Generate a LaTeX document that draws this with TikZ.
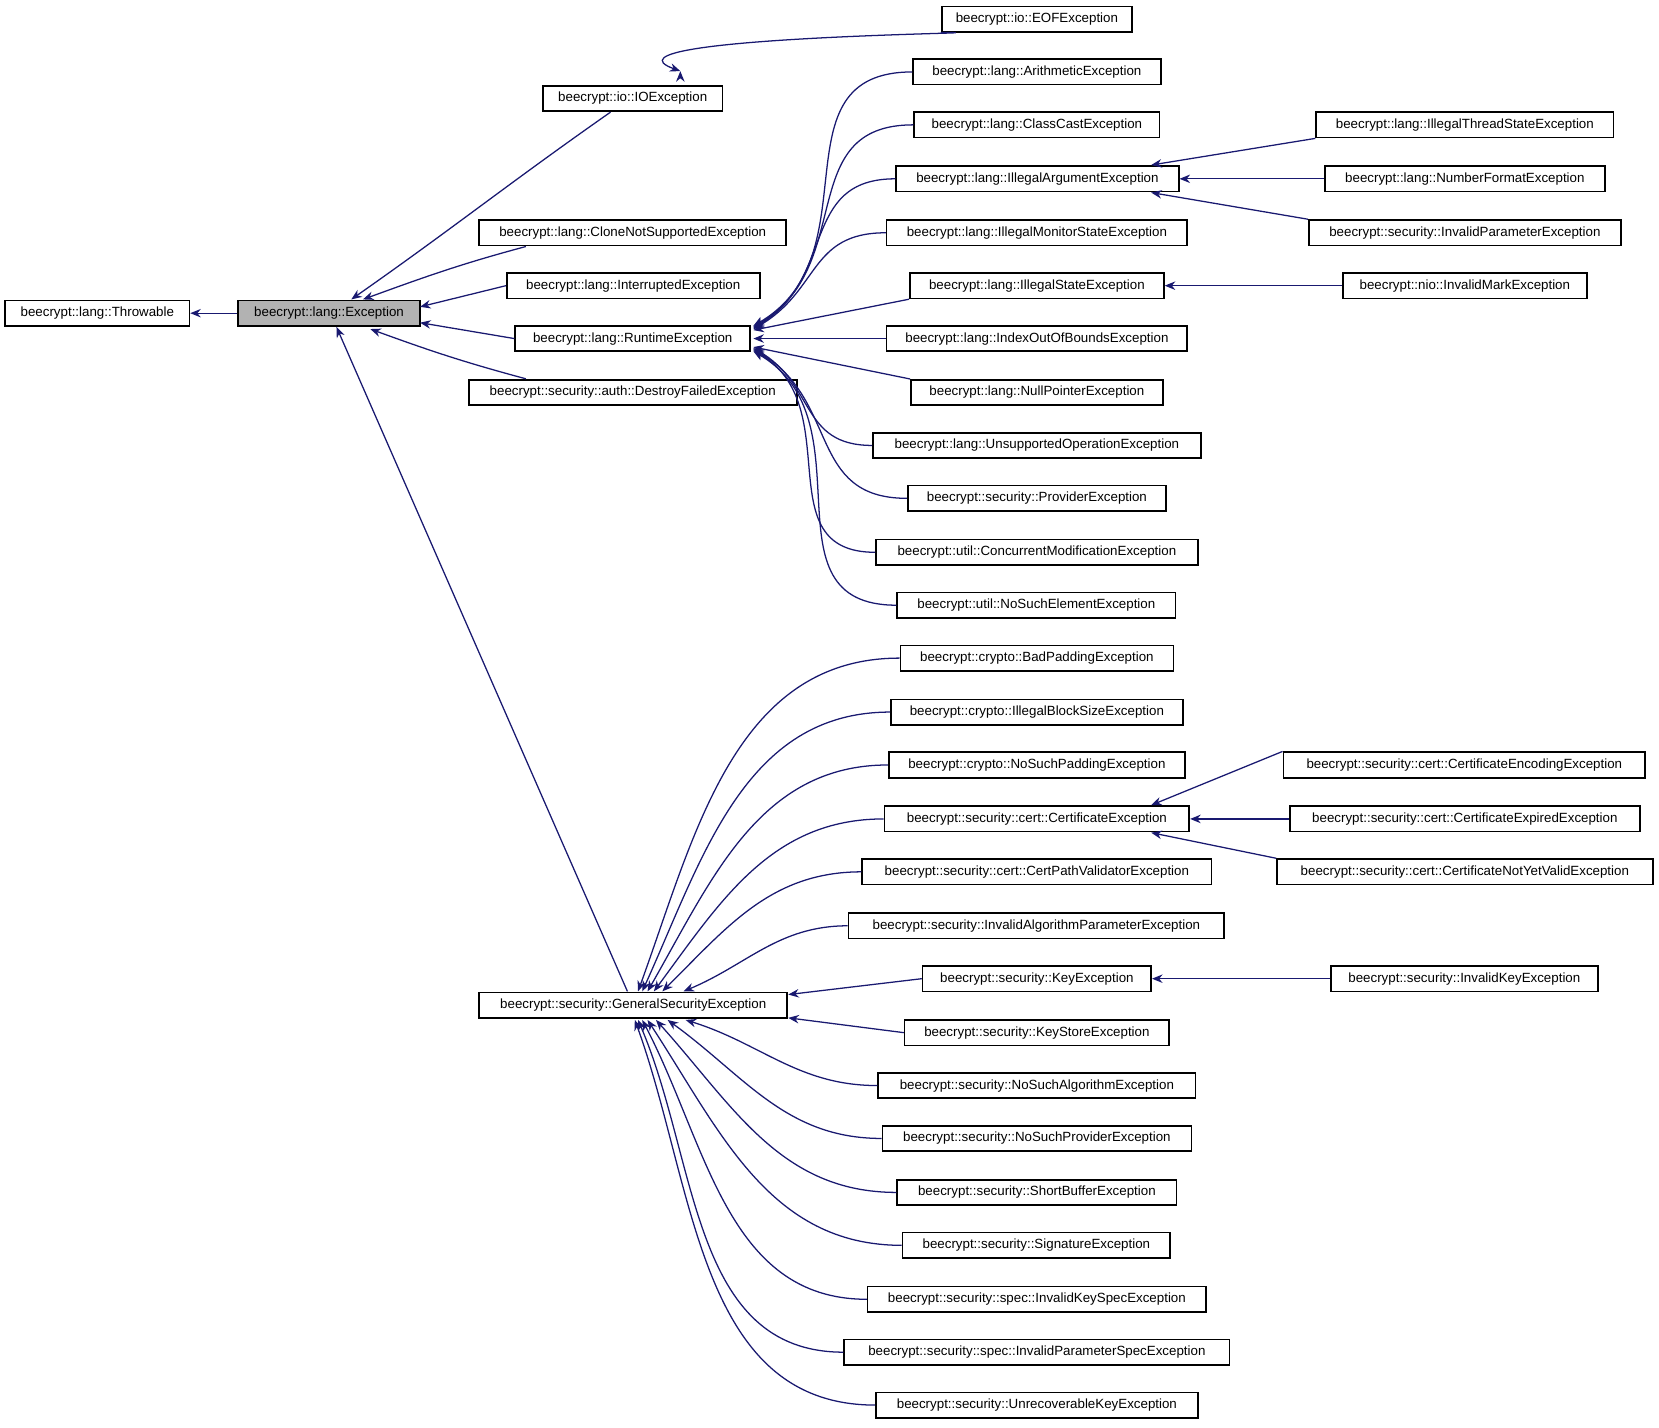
\documentclass[tikz,border=0pt]{standalone}
\usepackage{fontspec}
\setmainfont{Liberation Sans}
\usetikzlibrary{arrows.meta}
\definecolor{navy}{HTML}{191970}
\tikzset{
  cls/.style={draw, thick, inner sep=0pt, minimum height=12pt,
    font=\fontsize{6.3}{7}\selectfont},
  edge/.style={{Stealth[length=5pt,width=4pt]}-, draw=navy, semithick}
}
% class box: name, left, right, y, text
\newcommand\cls[5]{\node[cls, minimum width={(#3-#2)*0.5pt}] (#1) at ({(#2+#3)/2},#4) {#5};}
\begin{document}
\begin{tikzpicture}[x=0.5pt,y=-0.5pt]
  \useasboundingbox (0,0) rectangle (1568,1349);
  % root
  \cls{thr}{5}{179}{296}{beecrypt::lang::Throwable}
  \node[cls, fill=black!30, minimum width=86pt] (exc) at (311,296) {beecrypt::lang::Exception};
  \cls{io}{513}{683}{93}{beecrypt::io::IOException}
  \cls{eof}{890}{1070}{18}{beecrypt::io::EOFException}
  \cls{clone}{453}{743}{220}{beecrypt::lang::CloneNotSupportedException}
  \cls{intr}{479}{718}{270}{beecrypt::lang::InterruptedException}
  \cls{rt}{487}{709}{320}{beecrypt::lang::RuntimeException}
  \cls{dfe}{443}{753}{371}{beecrypt::security::auth::DestroyFailedException}
  \cls{gs}{453}{744}{950}{beecrypt::security::GeneralSecurityException}
  % runtime children
  \cls{arith}{863}{1097}{68}{beecrypt::lang::ArithmeticException}
  \cls{ccast}{864}{1096}{118}{beecrypt::lang::ClassCastException}
  \cls{iarg}{847}{1114}{169}{beecrypt::lang::IllegalArgumentException}
  \cls{imon}{838}{1122}{220}{beecrypt::lang::IllegalMonitorStateException}
  \cls{ist}{860}{1100}{270}{beecrypt::lang::IllegalStateException}
  \cls{ioob}{838}{1122}{320}{beecrypt::lang::IndexOutOfBoundsException}
  \cls{npe}{861}{1099}{371}{beecrypt::lang::NullPointerException}
  \cls{uoe}{825}{1135}{421}{beecrypt::lang::UnsupportedOperationException}
  \cls{prov}{858}{1102}{471}{beecrypt::security::ProviderException}
  \cls{cme}{828}{1132}{522}{beecrypt::util::ConcurrentModificationException}
  \cls{nse}{848}{1111}{572}{beecrypt::util::NoSuchElementException}
  \cls{its}{1244}{1525}{118}{beecrypt::lang::IllegalThreadStateException}
  \cls{nfe}{1252}{1517}{169}{beecrypt::lang::NumberFormatException}
  \cls{ipe}{1237}{1532}{220}{beecrypt::security::InvalidParameterException}
  \cls{ime}{1269}{1500}{270}{beecrypt::nio::InvalidMarkException}
  % general security children
  \cls{bpad}{851}{1109}{622}{beecrypt::crypto::BadPaddingException}
  \cls{ibs}{842}{1118}{673}{beecrypt::crypto::IllegalBlockSizeException}
  \cls{nspad}{840}{1120}{723}{beecrypt::crypto::NoSuchPaddingException}
  \cls{cert}{836}{1124}{774}{beecrypt::security::cert::CertificateException}
  \cls{cpv}{815}{1145}{824}{beecrypt::security::cert::CertPathValidatorException}
  \cls{iap}{802}{1157}{875}{beecrypt::security::InvalidAlgorithmParameterException}
  \cls{key}{872}{1088}{925}{beecrypt::security::KeyException}
  \cls{kst}{855}{1105}{976}{beecrypt::security::KeyStoreException}
  \cls{nsa}{830}{1130}{1026}{beecrypt::security::NoSuchAlgorithmException}
  \cls{nsp}{834}{1126}{1076}{beecrypt::security::NoSuchProviderException}
  \cls{sbuf}{848}{1112}{1127}{beecrypt::security::ShortBufferException}
  \cls{sig}{853}{1106}{1177}{beecrypt::security::SignatureException}
  \cls{iks}{820}{1140}{1228}{beecrypt::security::spec::InvalidKeySpecException}
  \cls{ips}{798}{1162}{1278}{beecrypt::security::spec::InvalidParameterSpecException}
  \cls{urk}{828}{1132}{1328}{beecrypt::security::UnrecoverableKeyException}
  \cls{cenc}{1213}{1555}{723}{beecrypt::security::cert::CertificateEncodingException}
  \cls{cexp}{1219}{1550}{774}{beecrypt::security::cert::CertificateExpiredException}
  \cls{cnyv}{1207}{1562}{824}{beecrypt::security::cert::CertificateNotYetValidException}
  \cls{ikey}{1258}{1510}{925}{beecrypt::security::InvalidKeyException}

  % exception level
  \draw[edge] (thr) -- (exc);
  \draw[edge] (332,283) to[out=35,in=-145] (577,106);
  \draw[edge] (io.north) ++(45,-13) coordinate (ioa);
  \draw[edge] (ioa) to[out=160,in=0] (eof.south west);
  \draw[edge] (343,283) to[out=20,in=-165] (497,233);
  \draw[edge] (397,290) -- (intr.west);
  \draw[edge] (397,305) -- (rt.west);
  \draw[edge] (350,311) to[out=-20,in=165] (497,358);
  \draw[edge] (318,309) -- (593,937);
  % runtime children
  \foreach \c/\y in {arith/308,ccast/309,iarg/310,imon/311}
    \draw[edge] (712,\y) to[out=30,in=180,looseness=1.2] (\c.west);
  \draw[edge] (712,312) -- (ist.south west);
  \draw[edge] (712,320) -- (ioob.west);
  \draw[edge] (712,328) -- (npe.north west);
  \foreach \c/\y in {uoe/329,prov/330,cme/331,nse/332}
    \draw[edge] (712,\y) to[out=-30,in=180,looseness=1.2] (\c.west);
  \draw[edge] (1088,156) -- (its.south west);
  \draw[edge] (iarg.east) -- (nfe.west);
  \draw[edge] (1088,182) -- (ipe.north west);
  \draw[edge] (ist.east) -- (ime.west);
  % general security children
  \foreach \c/\x in {bpad/603,ibs/607,nspad/612,cert/618,cpv/626,iap/646}
    \draw[edge] (\x,937) to[out=70-(\x-603)*1.1,in=180] (\c.west);
  \draw[edge] (745,940) -- (key.west);
  \draw[edge] (745,962) -- (kst.west);
  \foreach \c/\x in {nsa/648,nsp/631,sbuf/620,sig/612,iks/607,ips/603,urk/600}
    \draw[edge] (\x,964) to[out=-70+(\x-600)*1.1,in=180] (\c.west);
  \draw[edge] (1088,761) -- (cenc.north west);
  \draw[edge] (cert.east) -- (cexp.west);
  \draw[edge] (1088,787) -- (cnyv.north west);
  \draw[edge] (key.east) -- (ikey.west);
\end{tikzpicture}
\end{document}
